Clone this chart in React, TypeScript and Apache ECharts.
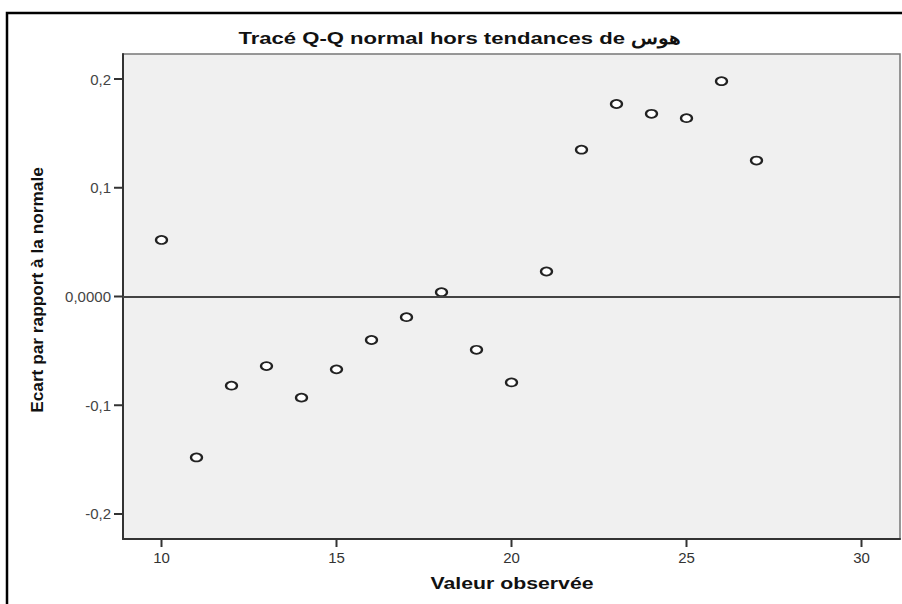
import React, { useEffect, useRef } from "react";
import * as echarts from "echarts";

const observed = [10, 11, 12, 13, 14, 15, 16, 17, 18, 19, 20, 21, 22, 23, 24, 25, 26, 27];
const deviation = [
  0.052, -0.148, -0.082, -0.064, -0.093, -0.067, -0.04, -0.019, 0.004, -0.049, -0.079, 0.023,
  0.135, 0.177, 0.168, 0.164, 0.198, 0.125,
];
const xTicks = [10, 15, 20, 25, 30];
const yTicks = [-0.2, -0.1, 0, 0.1, 0.2];

const titleText = "Tracé Q-Q normal hors tendances de هوس";
const xName = "Valeur observée";
const yName = "Ecart par rapport à la normale";

const FONT = '"Liberation Sans", Arial, sans-serif';

export default function App() {
  const ref = useRef<HTMLDivElement>(null);
  useEffect(() => {
    if (!ref.current) return;
    const chart = echarts.init(ref.current, null, { renderer: "svg" });
    const data = observed.map((x, i) => [x, deviation[i]]);
    chart.setOption({
      animation: false,
      backgroundColor: "#ffffff",
      grid: {
        left: 123,
        top: 54,
        right: 2,
        bottom: 65,
        show: true,
        backgroundColor: "#f0f0f0",
        borderColor: "#777",
        borderWidth: 1.5,
      },
      xAxis: {
        type: "value",
        min: 8.9,
        max: 31.1,
        splitLine: { show: false },
        axisLine: { show: true, onZero: false, lineStyle: { color: "#333", width: 2 } },
        axisTick: { show: false },
        axisLabel: {
          customValues: xTicks,
          color: "#333",
          fontSize: 15,
          fontFamily: FONT,
          margin: 11,
        },
      },
      yAxis: {
        type: "value",
        min: -0.223,
        max: 0.223,
        splitLine: { show: false },
        axisLine: { show: true, onZero: false, lineStyle: { color: "#333", width: 2 } },
        axisTick: { show: false },
        axisLabel: {
          customValues: yTicks,
          color: "#444",
          fontSize: 15,
          fontFamily: FONT,
          margin: 12,
          formatter: (v: number) =>
            Math.abs(v) < 1e-9 ? "0,0000" : v.toFixed(1).replace(".", ","),
        },
      },
      series: [
        {
          type: "scatter",
          data,
          symbol: "circle",
          symbolSize: [11, 8],
          itemStyle: { color: "#ffffff", borderColor: "#222", borderWidth: 2, opacity: 1 },
          markLine: {
            silent: true,
            symbol: ["none", "none"],
            label: { show: false },
            lineStyle: { color: "#444", width: 2, type: "solid" },
            data: [{ yAxis: 0 }],
          },
          z: 3,
        },
        {
          type: "custom",
          silent: true,
          clip: false,
          data: yTicks.map((v) => [xTicks[0], v]),
          renderItem: (params: any, api: any) => {
            const y = api.coord([api.value(0), api.value(1)])[1];
            const x = params.coordSys.x;
            return {
              type: "line",
              shape: { x1: x - 9, y1: y, x2: x, y2: y },
              style: { stroke: "#333", lineWidth: 2 },
            };
          },
          z: 4,
        },
        {
          type: "custom",
          silent: true,
          clip: false,
          data: xTicks.map((v) => [v, yTicks[0]]),
          renderItem: (params: any, api: any) => {
            const x = api.coord([api.value(0), api.value(1)])[0];
            const y = params.coordSys.y + params.coordSys.height;
            return {
              type: "line",
              shape: { x1: x, y1: y, x2: x, y2: y + 8 },
              style: { stroke: "#333", lineWidth: 2 },
            };
          },
          z: 4,
        },
      ],
      graphic: [
        {
          type: "rect",
          shape: { x: 7, y: 13, width: 900, height: 600 },
          style: { fill: "none", stroke: "#000", lineWidth: 2.5 },
          silent: true,
          z: 10,
        },
        {
          type: "text",
          x: 460,
          y: 38,
          scaleX: 1.3,
          style: {
            text: titleText,
            fontSize: 17,
            fontWeight: "bold",
            fontFamily: FONT,
            fill: "#111",
            textAlign: "center",
            textVerticalAlign: "middle",
          },
        },
        {
          type: "text",
          x: 512,
          y: 583,
          scaleX: 1.33,
          style: {
            text: xName,
            fontSize: 16,
            fontWeight: "bold",
            fontFamily: FONT,
            fill: "#111",
            textAlign: "center",
            textVerticalAlign: "middle",
          },
        },
        {
          type: "text",
          x: 38,
          y: 290,
          rotation: Math.PI / 2,
          scaleX: 1.08,
          style: {
            text: yName,
            fontSize: 16,
            fontWeight: "bold",
            fontFamily: FONT,
            fill: "#111",
            textAlign: "center",
            textVerticalAlign: "middle",
          },
        },
      ],
    });
    return () => chart.dispose();
  }, []);
  return <div ref={ref} style={{ width: 902, height: 604, position: "absolute", left: 0, top: 0 }} />;
}
